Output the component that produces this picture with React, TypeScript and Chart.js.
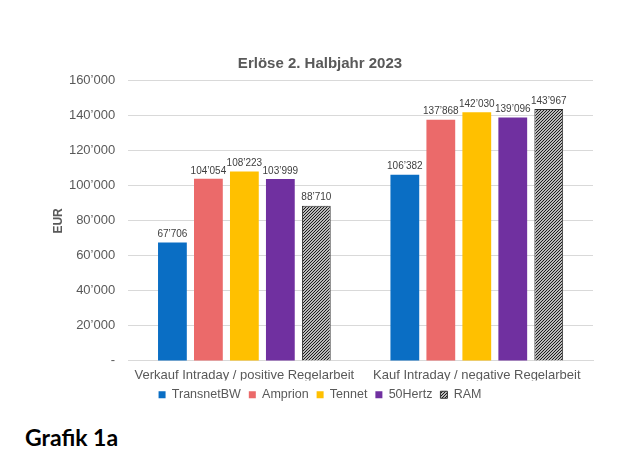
import { useEffect, useRef } from 'react'
import Chart from 'chart.js/auto'

const categories = ['Verkauf Intraday / positive Regelarbeit', 'Kauf Intraday / negative Regelarbeit']
const seriesNames = ['TransnetBW', 'Amprion', 'Tennet', '50Hertz', 'RAM']
const transnetBW = [67706, 106382]
const amprion = [104054, 137868]
const tennet = [108223, 142030]
const hertz50 = [103999, 139096]
const ram = [88710, 143967]
const seriesColors = ['#0A6EC4', '#EB6A6A', '#FFC000', '#7030A0']

const gray = '#595959'
const fontFamily = "'Liberation Sans', Arial, sans-serif"

const fmt = (v: number) => Math.round(v).toString().replace(/\B(?=(\d{3})+(?!\d))/g, '\u2019')

// dense up-diagonal hatch like Excel's pattern fill
function makeHatch() {
  const c = document.createElement('canvas')
  c.width = 3
  c.height = 3
  const g = c.getContext('2d')!
  g.fillStyle = '#ffffff'
  g.fillRect(0, 0, 3, 3)
  g.strokeStyle = '#111111'
  g.lineWidth = 1.1
  g.beginPath()
  g.moveTo(-1, 4)
  g.lineTo(4, -1)
  g.moveTo(-1, 1)
  g.lineTo(1, -1)
  g.moveTo(2, 4)
  g.lineTo(4, 2)
  g.stroke()
  return g.createPattern(c, 'repeat')!
}

const valueLabels = {
  id: 'valueLabels',
  afterDatasetsDraw(chart: any) {
    const ctx = chart.ctx
    ctx.save()
    ctx.font = `10px ${fontFamily}`
    ctx.fillStyle = '#404040'
    ctx.textAlign = 'center'
    ctx.textBaseline = 'bottom'
    chart.data.datasets.forEach((ds: any, i: number) => {
      chart.getDatasetMeta(i).data.forEach((bar: any, j: number) => {
        ctx.fillText(fmt(ds.data[j]), bar.x, bar.y - 3)
      })
    })
    ctx.restore()
  },
}

export default function App() {
  const chartRef = useRef<HTMLCanvasElement>(null)

  useEffect(() => {
    if (!chartRef.current) return
    const values = [transnetBW, amprion, tennet, hertz50, ram]
    const hatch = makeHatch()

    const chart = new Chart(chartRef.current, {
      type: 'bar',
      data: {
        labels: categories,
        datasets: values.map((data, i) => ({
          label: seriesNames[i],
          data,
          backgroundColor: i < 4 ? seriesColors[i] : hatch,
          borderColor: i < 4 ? seriesColors[i] : '#333333',
          borderWidth: i < 4 ? 0 : 1,
          barPercentage: 0.8,
          categoryPercentage: 0.774,
        })),
      },
      options: {
        responsive: true,
        maintainAspectRatio: false,
        animation: false,
        layout: { padding: { left: 47, right: 50, top: 0, bottom: 9 } },
        font: { family: fontFamily },
        plugins: {
          title: {
            display: true,
            text: 'Erlöse 2. Halbjahr 2023',
            color: gray,
            font: { family: fontFamily, size: 15, weight: 'bold' },
            padding: { top: 54.5, bottom: 8.4 },
          },
          legend: {
            position: 'bottom',
            labels: {
              boxWidth: 7,
              boxHeight: 7,
              padding: 8,
              color: gray,
              font: { family: fontFamily, size: 12.5 },
            },
          },
          tooltip: { enabled: false },
        },
        scales: {
          x: {
            grid: { display: false, drawTicks: false },
            border: { color: '#D9D9D9' },
            ticks: { color: gray, font: { family: fontFamily, size: 13 }, padding: 7 },
            afterFit: (s: any) => {
              s.height -= 10
            },
          },
          y: {
            min: 0,
            max: 160000,
            ticks: {
              stepSize: 20000,
              color: gray,
              padding: 13,
              font: { family: fontFamily, size: 13 },
              callback: (v: any) => (v === 0 ? '-' : fmt(v)),
            },
            grid: { color: '#D9D9D9', drawTicks: false },
            border: { display: false },
            title: {
              display: true,
              text: 'EUR',
              color: gray,
              font: { family: fontFamily, size: 12, weight: 'bold' },
            },
            afterFit: (s: any) => {
              s.width -= 13.5
            },
          },
        },
      },
      plugins: [valueLabels],
    })

    return () => chart.destroy()
  }, [])

  return (
    <div style={{ position: 'absolute', left: 0, top: 0, width: 643, height: 455, background: '#fff' }}>
      <div style={{ position: 'absolute', left: 0, top: 0, width: 643, height: 420 }}>
        <canvas ref={chartRef} />
      </div>
      <div
        style={{
          position: 'absolute',
          left: 25,
          top: 424,
          fontFamily: 'Lato, sans-serif',
          fontWeight: 'bold',
          fontSize: 23,
          lineHeight: '26px',
          color: '#000',
        }}
      >
        Grafik 1a
      </div>
    </div>
  )
}
